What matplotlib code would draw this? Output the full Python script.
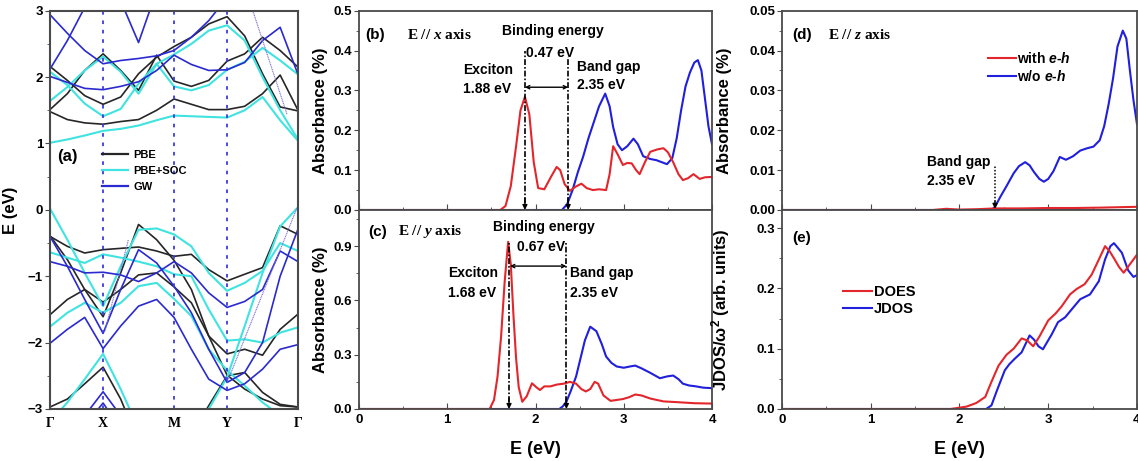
import numpy as np
import matplotlib
matplotlib.use('Agg')
import matplotlib.pyplot as plt
from matplotlib.ticker import MultipleLocator, FormatStrFormatter

plt.rcParams['font.family'] = ['Liberation Sans', 'DejaVu Sans']
plt.rcParams['font.weight'] = 'bold'
plt.rcParams['axes.labelweight'] = 'bold'
plt.rcParams['mathtext.fontset'] = 'custom'
plt.rcParams['mathtext.rm'] = 'Liberation Sans:bold'
plt.rcParams['mathtext.bf'] = 'Liberation Sans:bold'
plt.rcParams['mathtext.it'] = 'Liberation Sans:italic:bold'
plt.rcParams['mathtext.cal'] = 'Liberation Serif:italic:bold'

# ---- (a) band structure, energies (eV) along G-X-M-Y-G
K = [0, 0.07, 0.14, 0.214, 0.285, 0.357, 0.43, 0.5, 0.57, 0.64, 0.714, 0.785, 0.857, 0.928, 1.0]
kticks = [0, 0.214, 0.5, 0.714, 1.0]
klabels = ['Γ', 'X', 'M', 'Y', 'Γ']

pbe_c1 = [1.48, 1.36, 1.31, 1.29, 1.33, 1.36, 1.50, 1.67, 1.59, 1.51, 1.51, 1.56, 1.75, 2.03, 1.50]
pbe_c2 = [1.51, 1.75, 2.10, 2.35, 2.10, 1.80, 2.33, 1.94, 1.86, 1.95, 2.24, 2.35, 2.60, 2.40, 2.15]
pbe_c3 = [2.16, 1.95, 1.72, 1.59, 1.70, 2.05, 2.30, 2.46, 2.60, 2.80, 2.91, 2.62, 2.05, 1.55, 1.49]
pbe_v1 = [-0.39, -0.75, -1.20, -1.61, -0.95, -0.22, -0.45, -0.76, -1.20, -1.90, -2.49, -2.70, -2.85, -2.95, -2.97]
pbe_v2 = [-0.40, -0.55, -0.65, -0.60, -0.58, -0.56, -0.62, -0.70, -0.67, -0.90, -1.07, -0.97, -0.87, -0.24, -0.37]
pbe_v3 = [-1.58, -1.35, -1.20, -1.39, -1.20, -0.98, -0.95, -1.16, -1.40, -1.90, -2.17, -2.10, -2.19, -1.80, -1.57]
pbe_v4 = [-2.97, -2.85, -2.62, -2.37, -2.85, -3.50, -4.00, -4.00, -3.40, -2.95, -2.50, -2.45, -2.75, -2.93, -2.97]

soc_c1 = [1.01, 1.06, 1.12, 1.19, 1.22, 1.27, 1.35, 1.42, 1.41, 1.40, 1.39, 1.50, 1.70, 1.35, 1.04]
soc_c2 = [1.64, 1.85, 2.10, 2.31, 2.08, 1.75, 2.20, 1.86, 1.80, 1.88, 2.11, 2.23, 2.44, 2.25, 2.04]
soc_c3 = [2.08, 1.88, 1.60, 1.41, 1.52, 1.90, 2.20, 2.34, 2.50, 2.70, 2.78, 2.55, 2.00, 1.50, 1.06]
soc_v1 = [0.02, -0.45, -0.95, -1.45, -0.85, -0.30, -0.28, -0.37, -0.55, -0.95, -1.22, -1.10, -0.92, -0.50, -0.62]
soc_v2 = [-0.64, -0.72, -0.80, -0.67, -0.72, -0.78, -0.85, -0.97, -1.00, -1.50, -1.97, -1.95, -2.00, -1.85, -1.77]
soc_v3 = [-1.76, -1.55, -1.40, -1.55, -1.40, -1.15, -1.10, -1.34, -1.60, -2.10, -2.42, -2.65, -2.90, -3.10, -3.20]
soc_v4 = [-3.20, -2.90, -2.55, -2.17, -2.70, -3.30, -4.00, -4.00, -3.40, -3.00, -2.52, -1.75, -0.95, -0.25, 0.04]

gw_c1 = [2.01, 1.92, 1.83, 1.81, 1.86, 1.93, 2.10, 2.33, 2.19, 2.10, 2.11, 2.22, 2.55, 2.75, 2.04]
gw_c2 = [2.94, 2.66, 2.40, 2.20, 2.25, 2.28, 2.32, 2.40, 2.60, 2.85, 3.20, 3.50, 3.50, 3.50, 3.50]
gw_c3 = [2.12, 2.55, 3.05, 3.50, 3.15, 2.52, 3.30, 3.50, 3.50, 3.50, 3.50, 3.50, 3.50, 3.50, 3.50]
gw_v1 = [-0.40, -0.85, -1.35, -1.86, -1.20, -0.60, -0.80, -1.15, -1.55, -2.10, -2.60, -2.45, -2.00, -1.00, -0.29]
gw_v2 = [-0.78, -0.85, -0.95, -0.94, -0.98, -1.08, -0.95, -0.78, -0.95, -1.25, -1.47, -1.38, -1.20, -0.62, -0.78]
gw_v3 = [-2.01, -1.80, -1.62, -2.09, -1.75, -1.45, -1.35, -1.62, -2.10, -2.55, -2.72, -2.62, -2.40, -2.10, -2.03]
gw_v4 = [-4.00, -3.60, -3.10, -2.74, -3.10, -3.60, -4.00, -4.00, -4.00, -4.00, -4.00, -4.00, -4.00, -4.00, -4.00]
gw_v5 = [-4.00, -3.80, -3.25, -2.91, -3.30, -4.00, -4.00, -4.00, -4.00, -4.00, -4.00, -4.00, -4.00, -4.00, -4.00]

# thin crossing lines
thin_k = [[0.222, 0.316], [0.714, 0.996], [0.819, 0.956]]
thin_e = [[-1.82, -0.45], [-2.60, 0.03], [2.985, 1.435]]

# ---- (b) E // x
b_red_e = [0, 1.60, 1.66, 1.72, 1.78, 1.83, 1.88, 1.93, 1.98, 2.03, 2.10, 2.18, 2.24, 2.28, 2.33, 2.39,
           2.45, 2.52, 2.58, 2.65, 2.72, 2.80, 2.84, 2.88, 2.93, 2.99, 3.04, 3.09, 3.14, 3.18, 3.24, 3.30,
           3.38, 3.45, 3.50, 3.56, 3.62, 3.67, 3.73, 3.79, 3.86, 3.92, 4.0]
b_red = [0, 0, 0.01, 0.06, 0.16, 0.25, 0.284, 0.24, 0.12, 0.055, 0.052, 0.085, 0.108, 0.10, 0.065, 0.048,
         0.058, 0.066, 0.055, 0.05, 0.052, 0.05, 0.09, 0.16, 0.14, 0.113, 0.118, 0.117, 0.10, 0.09, 0.12, 0.146,
         0.152, 0.155, 0.145, 0.12, 0.09, 0.075, 0.08, 0.09, 0.078, 0.082, 0.083]
b_blue_e = [0, 2.30, 2.36, 2.42, 2.48, 2.54, 2.60, 2.66, 2.72, 2.79, 2.84, 2.88, 2.93, 2.98, 3.04, 3.11,
            3.16, 3.22, 3.30, 3.37, 3.43, 3.49, 3.55, 3.60, 3.65, 3.70, 3.75, 3.80, 3.84, 3.88, 3.92, 3.96, 4.0]
b_blue = [0, 0, 0.015, 0.05, 0.095, 0.134, 0.18, 0.22, 0.26, 0.292, 0.26, 0.208, 0.165, 0.15, 0.16, 0.179,
          0.165, 0.135, 0.128, 0.125, 0.12, 0.115, 0.13, 0.18, 0.25, 0.31, 0.345, 0.37, 0.376, 0.35, 0.28, 0.21, 0.165]

# ---- (c) E // y
c_red_e = [0, 1.48, 1.53, 1.57, 1.61, 1.65, 1.69, 1.72, 1.75, 1.78, 1.81, 1.85, 1.90, 1.96, 2.01, 2.05,
           2.10, 2.17, 2.24, 2.32, 2.39, 2.46, 2.52, 2.57, 2.62, 2.67, 2.71, 2.77, 2.85, 2.92, 2.99, 3.06,
           3.13, 3.20, 3.30, 3.45, 3.60, 3.80, 4.0]
c_red = [0, 0, 0.05, 0.18, 0.40, 0.70, 0.924, 0.80, 0.52, 0.28, 0.12, 0.04, 0.07, 0.142, 0.12, 0.105,
         0.125, 0.125, 0.135, 0.14, 0.15, 0.14, 0.11, 0.097, 0.11, 0.15, 0.14, 0.075, 0.045, 0.05, 0.055, 0.065,
         0.08, 0.075, 0.058, 0.042, 0.038, 0.032, 0.03]
c_blue_e = [0, 2.27, 2.31, 2.35, 2.40, 2.46, 2.51, 2.56, 2.62, 2.69, 2.75, 2.80, 2.86, 2.92, 3.00, 3.07,
            3.13, 3.20, 3.30, 3.41, 3.49, 3.56, 3.62, 3.67, 3.74, 3.82, 3.90, 4.0]
c_blue = [0, 0, 0.015, 0.04, 0.10, 0.18, 0.28, 0.38, 0.455, 0.43, 0.36, 0.29, 0.255, 0.235, 0.228, 0.235,
          0.24, 0.225, 0.20, 0.17, 0.18, 0.185, 0.165, 0.14, 0.13, 0.125, 0.118, 0.115]

# ---- (d) E // z
d_blue_e = [0, 2.36, 2.40, 2.46, 2.53, 2.61, 2.67, 2.74, 2.79, 2.84, 2.90, 2.95, 3.00, 3.06, 3.13, 3.20,
            3.28, 3.36, 3.44, 3.51, 3.58, 3.63, 3.68, 3.73, 3.78, 3.84, 3.88, 3.92, 3.96, 4.0]
d_blue = [0, 0, 0.0008, 0.0033, 0.006, 0.0092, 0.011, 0.012, 0.0112, 0.0095, 0.0078, 0.0071, 0.0078, 0.0098,
          0.0133, 0.0126, 0.0135, 0.0149, 0.0155, 0.0159, 0.0175, 0.021, 0.0265, 0.033, 0.041, 0.045, 0.043,
          0.035, 0.0276, 0.0215]
d_red_e = [0, 1.70, 1.85, 2.0, 2.2, 2.4, 2.7, 3.0, 3.3, 3.6, 4.0]
d_red = [0, 0, 0.0003, 0.0001, 0.0002, 0.0004, 0.0004, 0.0005, 0.0005, 0.0006, 0.0008]

# ---- (e) DOES / JDOS
e_red_e = [0, 1.90, 2.08, 2.19, 2.29, 2.36, 2.44, 2.53, 2.61, 2.70, 2.76, 2.83, 2.90, 3.00, 3.08, 3.15,
           3.245, 3.32, 3.41, 3.49, 3.58, 3.64, 3.69, 3.74, 3.80, 3.85, 3.92, 4.0]
e_red = [0, 0, 0.004, 0.01, 0.02, 0.045, 0.072, 0.09, 0.10, 0.117, 0.114, 0.104, 0.12, 0.147, 0.158, 0.17,
         0.19, 0.199, 0.207, 0.223, 0.251, 0.27, 0.262, 0.25, 0.235, 0.226, 0.24, 0.256]
e_blue_e = [0, 2.30, 2.36, 2.42, 2.51, 2.56, 2.62, 2.70, 2.79, 2.84, 2.89, 2.94, 3.04, 3.11, 3.19, 3.28,
            3.36, 3.47, 3.57, 3.64, 3.70, 3.74, 3.78, 3.83, 3.90, 3.96, 4.0]
e_blue = [0, 0, 0.006, 0.03, 0.064, 0.074, 0.083, 0.094, 0.122, 0.115, 0.104, 0.099, 0.124, 0.144, 0.152,
          0.168, 0.182, 0.19, 0.212, 0.248, 0.27, 0.275, 0.268, 0.259, 0.23, 0.219, 0.222]

RED = '#e3262b'
BLUE = '#1f1fdc'
BLK = '#262626'
CYAN = '#3fe3e0'
GW = '#2a2ad0'
SPINE = '#4a4a4a'
TICK_FS = 9.5


def style(ax, xlabels=True):
    for s in ax.spines.values():
        s.set_color(SPINE)
        s.set_linewidth(1.3)
    ax.set_xlim(0, 4)
    ax.xaxis.set_major_locator(MultipleLocator(1))
    ax.xaxis.set_minor_locator(MultipleLocator(0.5))
    ax.tick_params(axis='x', which='both', direction='in', colors=SPINE, labelcolor='k',
                   labelsize=TICK_FS, labelbottom=xlabels)
    ax.tick_params(axis='x', which='major', length=4)
    ax.tick_params(axis='x', which='minor', length=2.5)
    ax.tick_params(axis='y', which='both', direction='out', colors=SPINE, labelcolor='k',
                   labelsize=TICK_FS, pad=1.5)
    ax.tick_params(axis='y', which='major', length=3.5)
    ax.tick_params(axis='y', which='minor', length=2)


def gap_line(ax, x, top, head, ls):
    ax.plot([x, x], [head * 0.6, top], color='k', lw=1.2, ls=ls)
    ax.annotate('', xy=(x, 0), xytext=(x, head), arrowprops=dict(arrowstyle='-|>', color='k', lw=1.0,
                                                                 mutation_scale=7, shrinkA=0, shrinkB=0))


fig = plt.figure(figsize=(11.38, 4.61), dpi=100)

# ---------------- (a)
ax = fig.add_axes([0.04394, 0.1128, 0.21793, 0.864])
for band in [pbe_c1, pbe_c2, pbe_c3, pbe_v1, pbe_v2, pbe_v3, pbe_v4]:
    ax.plot(K, band, color=BLK, lw=1.2)
for band in [soc_c1, soc_c2, soc_c3, soc_v1, soc_v2, soc_v3, soc_v4]:
    ax.plot(K, band, color=CYAN, lw=1.5)
for band in [gw_c1, gw_c2, gw_c3, gw_v1, gw_v2, gw_v3, gw_v4, gw_v5]:
    ax.plot(K, band, color=GW, lw=1.2)
for tk, te in zip(thin_k, thin_e):
    ax.plot(tk, te, color='#7f6fd8', lw=0.8, ls=(0, (1, 0.6)))
for xv in kticks[1:-1]:
    ax.axvline(xv, color='#3b3be0', lw=1.3, ls=(0, (2, 3.2)))
ax.plot([], [], color=BLK, lw=1.6, label='PBE')
ax.plot([], [], color=CYAN, lw=1.6, label='PBE+SOC')
ax.plot([], [], color=GW, lw=1.6, label='GW')
h, l = ax.get_legend_handles_labels()
ax.legend(h, l, loc='upper left', bbox_to_anchor=(0.17, 0.675), frameon=False, fontsize=8,
          handlelength=2.3, labelspacing=0.55, handletextpad=0.5)
ax.text(0.03, 0.633, '(a)', transform=ax.transAxes, fontsize=12, va='center')
ax.set_xlim(0, 1)
ax.set_ylim(-3, 3)
ax.set_xticks(kticks)
ax.set_xticklabels(klabels, family='Liberation Serif', fontsize=10)
ax.yaxis.set_major_locator(MultipleLocator(1))
ax.yaxis.set_minor_locator(MultipleLocator(0.5))
ax.tick_params(axis='x', length=0, pad=6)
ax.tick_params(axis='y', which='both', direction='out', colors=SPINE, labelcolor='k',
               labelsize=TICK_FS, pad=1.5)
ax.tick_params(axis='y', which='major', length=3.5)
ax.tick_params(axis='y', which='minor', length=2)
for s in ax.spines.values():
    s.set_color(SPINE)
    s.set_linewidth(1.5)
ax.set_ylabel('E (eV)', fontsize=12)
ax.yaxis.set_label_coords(-0.13, 0.5)

# ---------------- (b)
ax = fig.add_axes([0.31547, 0.54447, 0.31019, 0.43232])
style(ax, xlabels=False)
ax.plot(b_blue_e, b_blue, color=BLUE, lw=1.5)
ax.plot(b_red_e, b_red, color=RED, lw=1.5)
ax.set_ylim(0, 0.5)
ax.yaxis.set_major_locator(MultipleLocator(0.1))
ax.yaxis.set_minor_locator(MultipleLocator(0.05))
ax.yaxis.set_major_formatter(FormatStrFormatter('%.1f'))
dd = (0, (3.5, 1.2, 1, 1.2))
gap_line(ax, 1.88, 0.40, 0.03, dd)
gap_line(ax, 2.37, 0.385, 0.03, dd)
ax.annotate('', xy=(1.88, 0.308), xytext=(2.37, 0.308),
            arrowprops=dict(arrowstyle='<->', color='k', lw=1.0, mutation_scale=6, shrinkA=0, shrinkB=0))
ax.text(0.07, 0.439, '(b)', fontsize=11, va='center')
ax.text(0.545, 0.439, 'E // $\\mathcal{x}$ axis', family='Liberation Serif', fontsize=11, va='center')
ax.text(2.20, 0.449, 'Binding energy', fontsize=10, ha='center', va='center')
ax.text(2.16, 0.393, '0.47 eV', fontsize=10, ha='center', va='center')
ax.text(1.18, 0.351, 'Exciton', fontsize=10, va='center')
ax.text(1.18, 0.303, '1.88 eV', fontsize=10, va='center')
ax.text(2.47, 0.358, 'Band gap', fontsize=10, va='center')
ax.text(2.47, 0.313, '2.35 eV', fontsize=10, va='center')
ax.set_ylabel('Absorbance (%)', fontsize=12)
ax.yaxis.set_label_coords(-0.088, 0.5)

# ---------------- (c)
ax = fig.add_axes([0.31547, 0.1128, 0.31019, 0.43167])
style(ax)
ax.plot(c_blue_e, c_blue, color=BLUE, lw=1.5)
ax.plot(c_red_e, c_red, color=RED, lw=1.5)
ax.set_ylim(0, 1.1)
ax.yaxis.set_major_locator(MultipleLocator(0.3))
ax.yaxis.set_minor_locator(MultipleLocator(0.15))
ax.yaxis.set_major_formatter(FormatStrFormatter('%.1f'))
gap_line(ax, 1.70, 0.92, 0.06, dd)
gap_line(ax, 2.35, 0.93, 0.06, dd)
ax.annotate('', xy=(1.71, 0.79), xytext=(2.35, 0.79),
            arrowprops=dict(arrowstyle='<->', color='k', lw=1.0, mutation_scale=6, shrinkA=0, shrinkB=0))
ax.text(0.10, 0.98, '(c)', fontsize=11, va='center')
ax.text(0.44, 0.98, 'E // $\\mathcal{y}$ axis', family='Liberation Serif', fontsize=11, va='center')
ax.text(2.10, 1.007, 'Binding energy', fontsize=10, ha='center', va='center')
ax.text(2.06, 0.897, '0.67 eV', fontsize=10, ha='center', va='center')
ax.text(1.01, 0.75, 'Exciton', fontsize=10, va='center')
ax.text(1.01, 0.64, '1.68 eV', fontsize=10, va='center')
ax.text(2.39, 0.75, 'Band gap', fontsize=10, va='center')
ax.text(2.39, 0.64, '2.35 eV', fontsize=10, va='center')
ax.set_ylabel('Absorbance (%)', fontsize=12)
ax.yaxis.set_label_coords(-0.088, 0.5)
ax.set_xlabel('E (eV)', fontsize=13)
ax.xaxis.set_label_coords(0.5, -0.16)

# ---------------- (d)
ax = fig.add_axes([0.68717, 0.54447, 0.31195, 0.43232])
style(ax, xlabels=False)
ax.plot(d_blue_e, d_blue, color=BLUE, lw=1.5, label='w/o $e$-$h$')
ax.plot(d_red_e, d_red, color=RED, lw=1.5, label='with $e$-$h$')
ax.set_ylim(0, 0.05)
ax.yaxis.set_major_locator(MultipleLocator(0.01))
ax.yaxis.set_minor_locator(MultipleLocator(0.005))
ax.yaxis.set_major_formatter(FormatStrFormatter('%.2f'))
h, l = ax.get_legend_handles_labels()
ax.legend(h[::-1], l[::-1], loc='upper left', bbox_to_anchor=(0.545, 0.86), frameon=False, fontsize=10,
          handlelength=2.0, handletextpad=0.1, labelspacing=0.2)
ax.plot([2.40, 2.40], [0.0012, 0.0113], color='k', lw=1.1, ls=(0, (1, 1.2)))
ax.annotate('', xy=(2.40, 0.0003), xytext=(2.40, 0.0022),
            arrowprops=dict(arrowstyle='-|>', color='k', lw=1.0, mutation_scale=7, shrinkA=0, shrinkB=0))
ax.text(0.11, 0.0439, '(d)', fontsize=11, va='center')
ax.text(0.52, 0.0439, 'E // $\\mathcal{z}$ axis', family='Liberation Serif', fontsize=11, va='center')
ax.text(1.63, 0.0120, 'Band gap', fontsize=10, va='center')
ax.text(1.63, 0.0073, '2.35 eV', fontsize=10, va='center')
ax.set_ylabel('Absorbance (%)', fontsize=12)
ax.yaxis.set_label_coords(-0.14, 0.5)

# ---------------- (e)
ax = fig.add_axes([0.68717, 0.1128, 0.31195, 0.43167])
style(ax)
ax.plot(e_blue_e, e_blue, color=BLUE, lw=1.5, label='JDOS')
ax.plot(e_red_e, e_red, color=RED, lw=1.5, label='DOES')
ax.set_ylim(0, 0.33)
ax.yaxis.set_major_locator(MultipleLocator(0.1))
ax.yaxis.set_minor_locator(MultipleLocator(0.05))
ax.yaxis.set_major_formatter(FormatStrFormatter('%.1f'))
h, l = ax.get_legend_handles_labels()
ax.legend(h[::-1], l[::-1], loc='upper left', bbox_to_anchor=(0.135, 0.69), frameon=False, fontsize=10.5,
          handlelength=2.0, handletextpad=0.1, labelspacing=0.25)
ax.text(0.11, 0.284, '(e)', fontsize=11, va='center')
ax.set_ylabel('JDOS/ω$^2$ (arb. units)', fontsize=12)
ax.yaxis.set_label_coords(-0.14, 0.5)
ax.set_xlabel('E (eV)', fontsize=13)
ax.xaxis.set_label_coords(0.5, -0.16)

fig.savefig('out.png', dpi=100)
